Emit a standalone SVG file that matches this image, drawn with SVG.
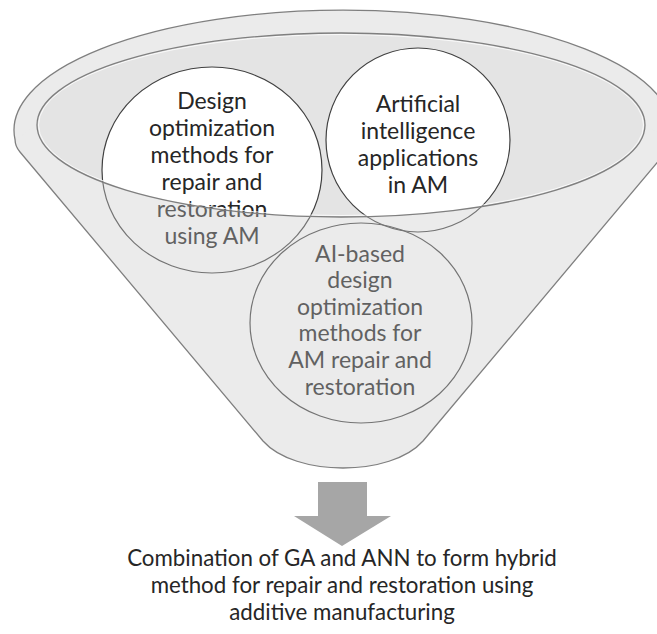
<svg xmlns="http://www.w3.org/2000/svg" width="657" height="634" viewBox="0 0 657 634">
  <style>
    .lbl { font-family: Lato, "Open Sans", "Liberation Sans", sans-serif; font-size: 23px; fill: #262626; text-anchor: middle; }
    .lbl.out { font-size: 22.3px; }
    .ring { stroke: #404040; stroke-width: 1.2; }
    .edge { fill: none; stroke: #7f7f7f; stroke-width: 1.3; }
  </style>
  <defs>
    <!-- outline of the funnel: wide elliptical mouth narrowing to a rounded spout -->
    <path id="funnel-shape" d="M 15.1,140 A 329 120 0 1 1 670.9,140 Q 671,146 666,152 L 423,441 C 391,477 295,477 263,441 L 20,152 Q 15,146 15.1,140 Z"/>
    <ellipse id="mouth" cx="341" cy="125" rx="304" ry="92"/>
    <clipPath id="mouth-clip"><use href="#mouth"/></clipPath>
  </defs>

  <!-- funnel body -->
  <g id="funnel">
    <use href="#funnel-shape" fill="#ebebeb"/>
    <use href="#mouth" fill="#e4e4e4"/>
  </g>

  <!-- white faces of the two upper circles, visible inside the mouth only -->
  <g id="faces" clip-path="url(#mouth-clip)">
    <ellipse cx="212" cy="170" rx="110" ry="103" fill="#ffffff"/>
    <circle cx="418" cy="140" r="92" fill="#ffffff"/>
  </g>

  <g id="node-design">
    <ellipse class="ring" cx="212" cy="170" rx="110" ry="103" fill="none"/>
    <text class="lbl" x="212" y="109">Design</text>
    <text class="lbl" x="212" y="136">optimization</text>
    <text class="lbl" x="212" y="163">methods for</text>
    <text class="lbl" x="212" y="190">repair and</text>
    <text class="lbl" x="212" y="217">restoration</text>
    <text class="lbl" x="212" y="244">using AM</text>
  </g>

  <g id="node-ai">
    <circle class="ring" cx="418" cy="140" r="92" fill="none"/>
    <text class="lbl" x="418" y="112">Artificial</text>
    <text class="lbl" x="418" y="139">intelligence</text>
    <text class="lbl" x="418" y="166">applications</text>
    <text class="lbl" x="418" y="193">in AM</text>
  </g>

  <g id="node-ai-design">
    <ellipse class="ring" cx="361" cy="323" rx="111" ry="100" fill="none"/>
    <text class="lbl" x="360" y="262">AI-based</text>
    <text class="lbl" x="360" y="288">design</text>
    <text class="lbl" x="360" y="315">optimization</text>
    <text class="lbl" x="360" y="341">methods for</text>
    <text class="lbl" x="360" y="368">AM repair and</text>
    <text class="lbl" x="360" y="395">restoration</text>
  </g>

  <!-- front wall of the funnel, slightly veiling what lies behind it -->
  <path id="front-wall" d="M 37,125 A 304 92 0 0 0 645,125 L 671,140 Q 671,146 666,152 L 423,441 C 391,477 295,477 263,441 L 20,152 Q 15,146 15.1,140 Z" fill="#ebebeb" fill-opacity="0.3"/>

  <g id="funnel-edges">
    <use href="#funnel-shape" class="edge"/>
    <ellipse cx="341" cy="125" rx="302.5" ry="90.5" fill="none" stroke="#ffffff" stroke-opacity="0.8" stroke-width="1"/>
    <use href="#mouth" class="edge"/>
  </g>

  <g id="connectors">
    <polygon points="318,482 367,482 367,516 391,516 342,546 294,516 318,516" fill="#a6a6a6"/>
  </g>

  <g id="node-result">
    <text class="lbl out" x="342" y="566">Combination of GA and ANN to form hybrid</text>
    <text class="lbl out" x="342" y="593">method for repair and restoration using</text>
    <text class="lbl out" x="342" y="620">additive manufacturing</text>
  </g>
</svg>
